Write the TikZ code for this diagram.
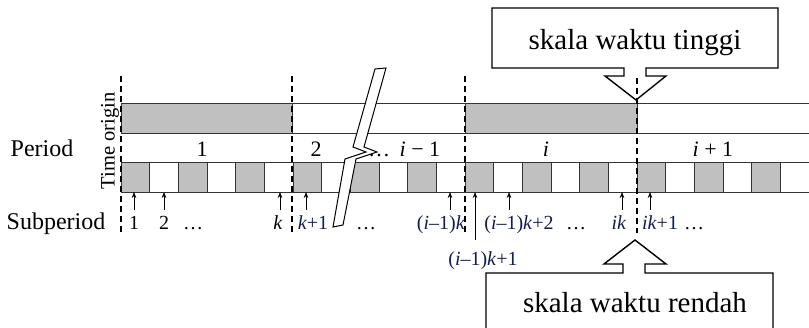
\documentclass[tikz,border=0pt]{standalone}
\usepackage{fontspec}
\setmainfont{Liberation Serif}
\usetikzlibrary{arrows.meta}
\definecolor{cellgray}{RGB}{192,192,192}
\definecolor{labblue}{RGB}{22,30,72}

\begin{document}
\begin{tikzpicture}[x=1pt,y=-1pt,
 band/.style={draw=black!80,line width=.8pt},
 sep/.style={dash pattern=on 6pt off 4pt,line width=1.2pt},
 tick/.style={-{Stealth[length=6pt,width=4.5pt]},line width=.6pt},
 per/.style={font=\fontsize{24}{27}\selectfont,anchor=base,inner sep=0pt},
 num/.style={font=\fontsize{22}{25}\selectfont,anchor=base,inner sep=0pt},
 lab/.style={font=\fontsize{20}{22}\selectfont,anchor=base,inner sep=0pt},
 sub/.style={lab,text=labblue},
 callout/.style={draw,line width=1.4pt,fill=white},
 calltext/.style={font=\fontsize{29}{32}\selectfont,anchor=base,inner sep=0pt}]
 \path[use as bounding box] (0,0) rectangle (809,328);
 % upper band: periods
 \fill[cellgray] (121,103) rectangle (292,133);
 \fill[cellgray] (465,103) rectangle (637,133);
 \draw[band] (121,103) -- (809,103) (121,133) -- (809,133);
 \foreach \x in {121,292,465,637} \draw[band] (\x,103) -- (\x,133);
 % lower band: subperiods
 \foreach \c in {0,2,...,22} \fill[cellgray] ({121+\c*28.667},162) rectangle +(28.667,30);
 \draw[band] (121,162) -- (809,162) (121,192) -- (809,192);
 \foreach \c in {0,...,23} \draw[band] ({121+\c*28.667},162) -- +(0,30);
 % row titles
 \node[per] (period) at (42,157) {Period};
 \node[per] (subperiod) at (56,230) {Subperiod};
 \node[font=\fontsize{20.5}{23}\selectfont,rotate=90,inner sep=0pt] (origin) at (110,141) {Time origin};
 % period labels
 \node[num] (p1) at (202,157) {1};
 \node[num] (p2) at (316,157) {2};
 \node[num] (pdots) at (379,157) {\dots};
 \node[num] (pim) at (420,157) {\textit{i} − 1};
 \node[num] (pi) at (546,157) {\textit{i}};
 \node[num] (pip) at (713,157) {\textit{i} + 1};
 % break mark
 \draw[fill=white,line width=1pt,line join=miter] (375,69) -- (386,68) -- (364,147) -- (377,152) -- (356,159) -- (343,225)
   -- (333,227) -- (345,159) -- (366,152) -- (353,147) -- cycle;
 % subperiod labels
 \node[lab] (s1) at (134,230) {1};
 \node[lab] (s2) at (164,230) {2};
 \node[lab] (sd1) at (193,230) {\dots};
 \node[lab] (sk) at (278,230) {\textit{k}};
 \node[sub] (sk1) at (313,230) {\textit{k}+1};
 \node[lab] (sd2) at (366,230) {\dots};
 \node[sub] (sik0) at (441,230) {(\textit{i}–1)\textit{k}};
 \node[sub] (sik2) at (519,230) {(\textit{i}–1)\textit{k}+2};
 \node[lab] (sd3) at (576,230) {\dots};
 \node[sub] (sik) at (619,230) {\textit{ik}};
 \node[sub] (sik1) at (660,230) {\textit{ik}+1};
 \node[lab] (sd4) at (694,230) {\dots};
 \node[sub] (sikb) at (483,266) {(\textit{i}–1)\textit{k}+1};
 % pointers to subperiods
 \foreach \x [count=\n] in {134,164,280,306,450,509,622,650}{
  \coordinate (lo\n) at (\x,210);
  \coordinate (hi\n) at (\x,192);
  \draw[tick] (lo\n) -- (hi\n);}
 \coordinate (lolong) at (475,240);
 \coordinate (hilong) at (475,192);
 \draw[tick] (lolong) -- (hilong);
 % callouts
 \draw[callout] (492,8) -- (778,8) -- (778,68) -- (646,68) -- (646,76) -- (666,76) -- (636,100)
   -- (605,76) -- (624,76) -- (624,68) -- (492,68) -- cycle;
 \node[calltext] (tinggi) at (635,50) {skala waktu tinggi};
 \draw[callout] (486,332) -- (486,273) -- (623,273) -- (623,264) -- (604,264) -- (635,240)
   -- (666,264) -- (645,264) -- (645,273) -- (773,273) -- (773,332);
 \node[calltext] (rendah) at (635,313) {skala waktu rendah};
 % period boundaries
 \foreach \x in {121,292,465} \draw[sep] (\x,76) -- (\x,233);
 \draw[sep] (637,78) -- (637,233);
\end{tikzpicture}
\end{document}
